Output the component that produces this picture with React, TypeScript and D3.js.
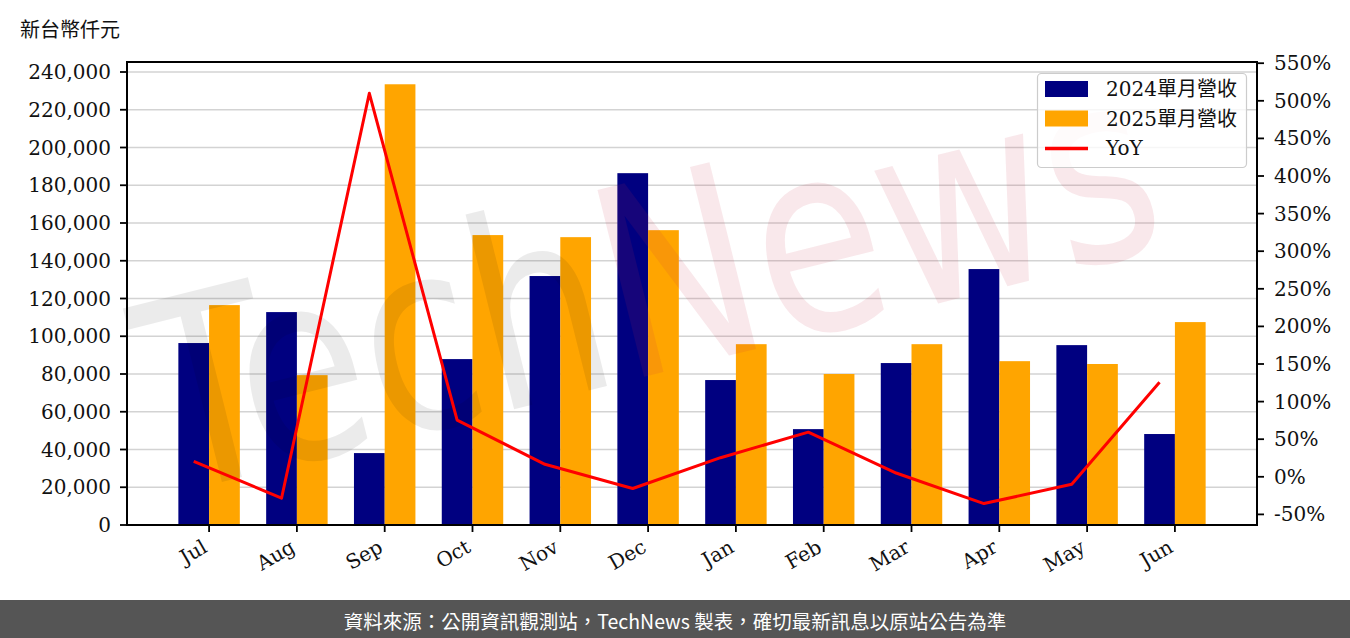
import React from "react";
import * as d3 from "d3";

const months = ["Jul", "Aug", "Sep", "Oct", "Nov", "Dec", "Jan", "Feb", "Mar", "Apr", "May", "Jun"];
const rev2024 = [96400, 112800, 38100, 87900, 131900, 186400, 76800, 50800, 85800, 135600, 95300, 48200];
const rev2025 = [116500, 79400, 233500, 153600, 152500, 156200, 95800, 80000, 95800, 86800, 85300, 107500];
const yoy = [20.6, -28.5, 510, 75.3, 16.6, -15.6, 25.4, 59.4, 5, -35.6, -10, 125.7];
const leftTicks = [0, 20000, 40000, 60000, 80000, 100000, 120000, 140000, 160000, 180000, 200000, 220000, 240000];
const rightTicks = [-50, 0, 50, 100, 150, 200, 250, 300, 350, 400, 450, 500, 550];
const legendLabels = ["2024單月營收", "2025單月營收", "YoY"];
const unitLabel = "新台幣仟元";
const footerText = "資料來源：公開資訊觀測站，TechNews 製表，確切最新訊息以原站公告為準";

const W = 1350;
const H = 638;
const L = 127, R = 1257, T = 62, B = 525;
const serif = "'DejaVu Serif', 'Noto Sans CJK TC', serif";
const NAVY = "#000080";
const ORANGE = "#FFA500";

export default function App() {
  const x = d3.scaleLinear().domain([-0.935, 11.935]).range([L, R]);
  const y = d3.scaleLinear().domain([0, 245300]).range([B, T]);
  const y2 = d3.scaleLinear().domain([-64.1, 551.6]).range([B, T]);
  const bw = 0.35;
  const fmt = d3.format(",");
  const line = d3
    .line<number>()
    .x((_, i) => x(i - bw / 2))
    .y((d) => y2(d));

  return (
    <svg width={W} height={H} style={{ position: "absolute", left: 0, top: 0, display: "block", background: "#fff" }}>
      <rect x={0} y={0} width={W} height={H} fill="#fff" />
      <text x={20} y={28} fontFamily="'Noto Sans CJK TC', sans-serif" fontSize={20} dominantBaseline="central" fill="#111">
        {unitLabel}
      </text>

      {/* grid */}
      {leftTicks.map((t) => (
        <line key={"g" + t} x1={L} x2={R} y1={y(t)} y2={y(t)} stroke="#d3d3d3" strokeWidth={1.6} />
      ))}

      {/* bars */}
      {rev2024.map((v, i) => (
        <rect key={"a" + i} x={x(i - bw)} y={y(v)} width={x(bw) - x(0)} height={y(0) - y(v)} fill={NAVY} />
      ))}
      {rev2025.map((v, i) => (
        <rect key={"b" + i} x={x(i)} y={y(v)} width={x(bw) - x(0)} height={y(0) - y(v)} fill={ORANGE} />
      ))}

      {/* watermark */}
      <text
        transform="translate(170,495) rotate(-14) scale(0.95,1.2)"
        fontFamily="'DejaVu Sans', sans-serif"
        fontSize={220}
      >
        <tspan fill="#000" fillOpacity={0.08}>Tech</tspan>
        <tspan fill="rgb(200,50,70)" fillOpacity={0.11}>News</tspan>
      </text>

      {/* YoY line */}
      <path d={line(yoy) || ""} fill="none" stroke="#ff0000" strokeWidth={3} strokeLinejoin="round" />

      {/* spines */}
      <rect x={L} y={T} width={R - L} height={B - T} fill="none" stroke="#000" strokeWidth={2} />

      {/* left axis */}
      {leftTicks.map((t) => (
        <g key={"l" + t}>
          <line x1={L - 7} x2={L} y1={y(t)} y2={y(t)} stroke="#000" strokeWidth={1.8} />
          <text x={111} y={y(t)} textAnchor="end" dominantBaseline="central" fontFamily={serif} fontSize={20} fill="#111">
            {fmt(t)}
          </text>
        </g>
      ))}

      {/* right axis */}
      {rightTicks.map((t) => (
        <g key={"r" + t}>
          <line x1={R} x2={R + 7} y1={y2(t)} y2={y2(t)} stroke="#000" strokeWidth={1.8} />
          <text x={1274} y={y2(t)} dominantBaseline="central" fontFamily={serif} fontSize={20} fill="#111">
            {t + "%"}
          </text>
        </g>
      ))}

      {/* x axis */}
      {months.map((m, i) => (
        <g key={"x" + m}>
          <line x1={x(i)} x2={x(i)} y1={B} y2={B + 7} stroke="#000" strokeWidth={1.8} />
          <text
            transform={`translate(${x(i) - 8},${538}) rotate(-30)`}
            textAnchor="end"
            dy="0.75em"
            fontFamily={serif}
            fontSize={20}
            fill="#111"
          >
            {m}
          </text>
        </g>
      ))}

      {/* legend */}
      <g>
        <rect x={1037.5} y={73.5} width={209} height={94} rx={4} fill="#fff" fillOpacity={0.8} stroke="#cccccc" strokeWidth={1.2} />
        <rect x={1045} y={81} width={43} height={16} fill={NAVY} />
        <rect x={1045} y={110.5} width={43} height={16} fill={ORANGE} />
        <line x1={1045} x2={1088} y1={148.5} y2={148.5} stroke="#ff0000" strokeWidth={3.5} />
        {legendLabels.map((lab, i) => (
          <text key={lab} x={1106} y={89.3 + i * 29.5} dominantBaseline="central" fontFamily={serif} fontSize={20} fill="#111">
            {lab}
          </text>
        ))}
      </g>

      {/* footer */}
      <rect x={0} y={600} width={W} height={38} fill="#555555" />
      <text x={675} y={620} textAnchor="middle" dominantBaseline="central" fontFamily="'Noto Sans CJK TC', sans-serif" fontSize={19.5} fill="#ffffff">
        {footerText}
      </text>
    </svg>
  );
}
